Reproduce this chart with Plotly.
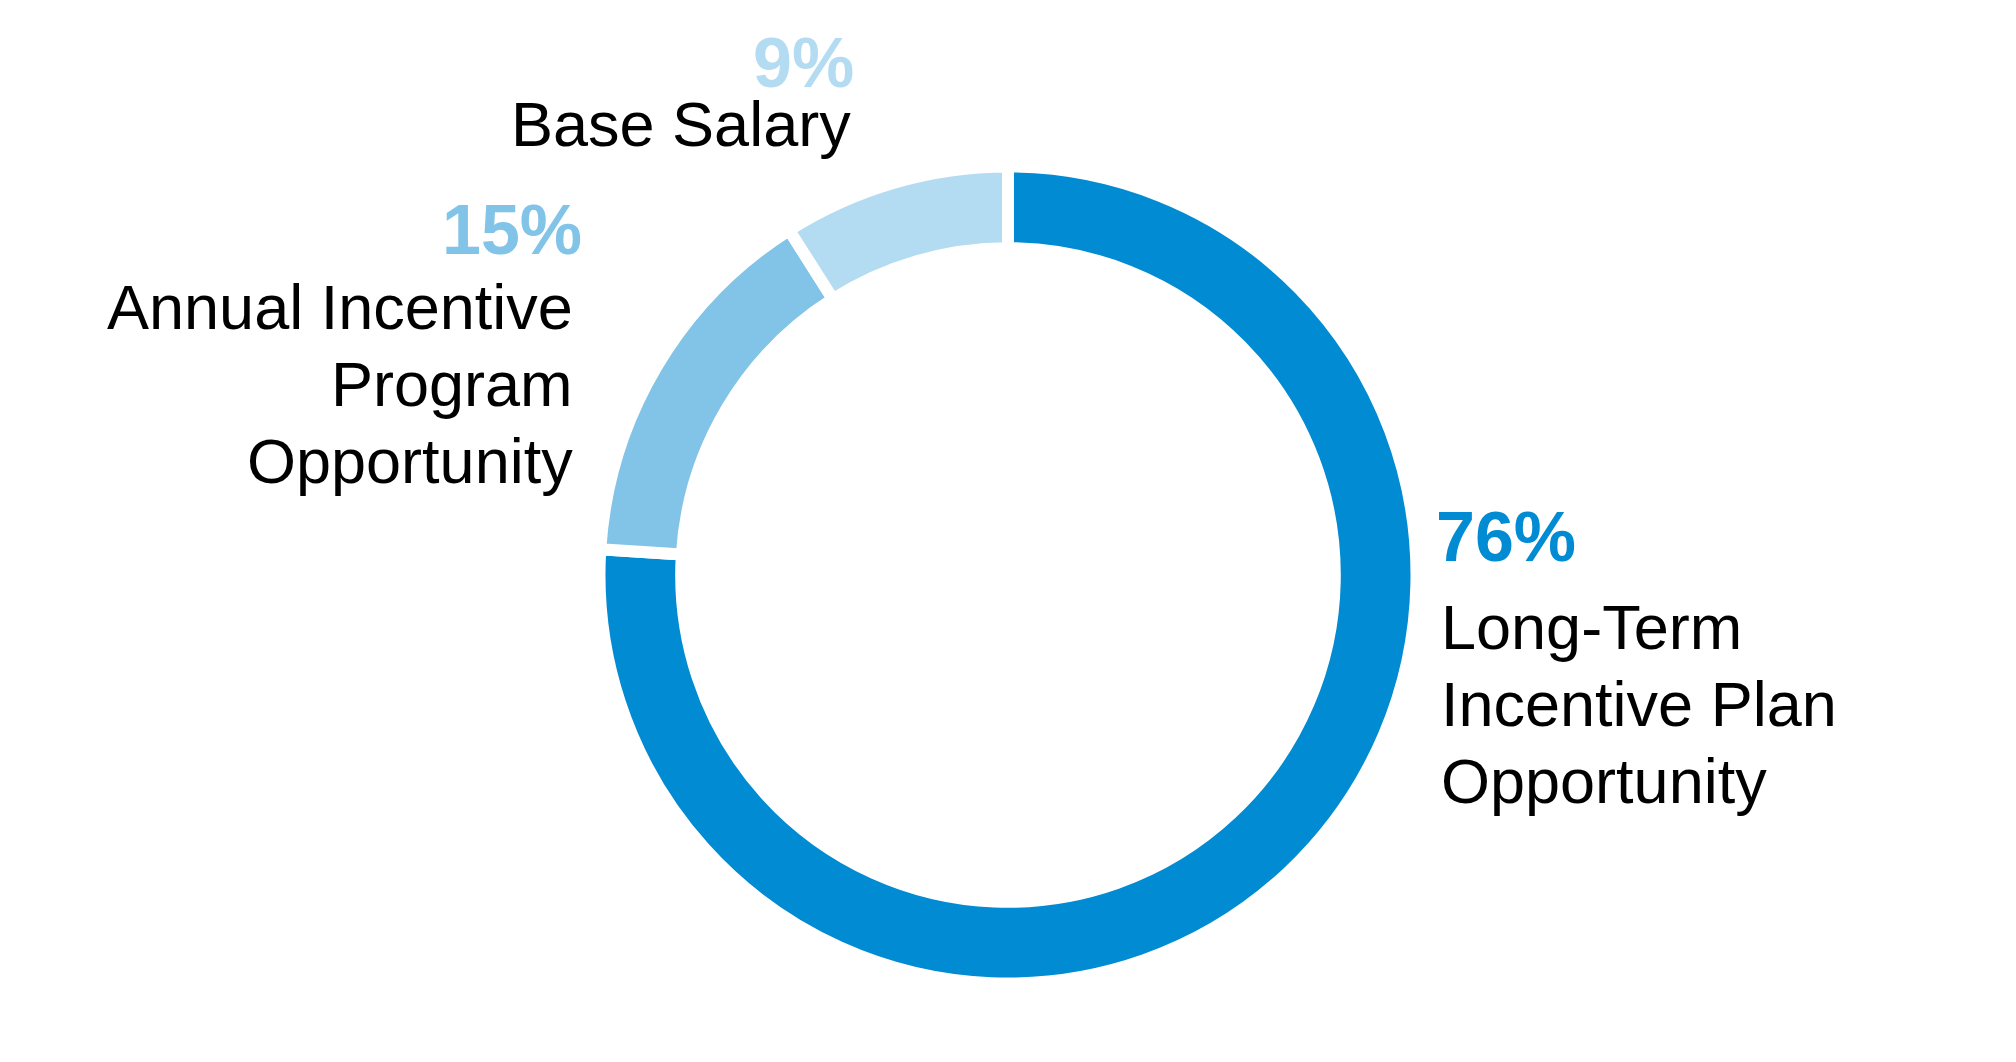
import plotly.graph_objects as go

# ---- data ----
categories = ["Long-Term Incentive Plan Opportunity",
              "Annual Incentive Program Opportunity",
              "Base Salary"]
values = [76, 15, 9]
pct_labels = ["76%", "15%", "9%"]
label_lines = [["Long-Term", "Incentive Plan", "Opportunity"],
               ["Annual Incentive", "Program", "Opportunity"],
               ["Base Salary"]]
colors = ["#008BD2", "#82C4E8", "#B3DCF2"]

# page body has an 8px margin; keep the figure inside the window
OFF = 8
W, H = 2016 - 2 * OFF, 1062 - 2 * OFF

def px(x):
    return (x - OFF) / W

def py(y):
    return 1 - (y - OFF) / H

fig = go.Figure()

# ring geometry (window pixels)
cx, cy, R = 1008, 575, 408.5
fig.add_trace(go.Pie(
    labels=categories,
    values=values,
    sort=False,
    direction="clockwise",
    rotation=0,
    hole=0.80,
    marker=dict(colors=colors, line=dict(color="white", width=12)),
    textinfo="none",
    hoverinfo="label+percent",
    showlegend=False,
    domain=dict(x=[px(cx - R), px(cx + R)], y=[py(cy + R), py(cy - R)]),
))

FONT = "Liberation Sans, Arial, Helvetica, sans-serif"
PCT_SIZE = 70
LBL_SIZE = 63

# label block layout:
# (anchor side, percent x, percent baseline, label x, first label baseline, line spacing)
layout_spec = [
    ("left", 1434, 561, 1439, 649, 77),
    ("right", 584, 254, 575, 329, 77),
    ("right", 856, 88, 853, 146, 77),
]

annotations = []
for i, (side, xp, pb, xl, lb, sp) in enumerate(layout_spec):
    annotations.append(dict(
        text="<b>%s</b>" % pct_labels[i],
        x=px(xp), y=py(pb - 0.35 * PCT_SIZE),
        xref="paper", yref="paper",
        xanchor=side, yanchor="middle",
        showarrow=False,
        font=dict(family=FONT, size=PCT_SIZE, color=colors[i]),
    ))
    for j, line in enumerate(label_lines[i]):
        annotations.append(dict(
            text=line,
            x=px(xl), y=py(lb + j * sp - 0.35 * LBL_SIZE),
            xref="paper", yref="paper",
            xanchor=side, yanchor="middle",
            showarrow=False,
            font=dict(family=FONT, size=LBL_SIZE, color="#000000"),
        ))

fig.update_layout(
    width=W, height=H,
    margin=dict(l=0, r=0, t=0, b=0),
    paper_bgcolor="white",
    plot_bgcolor="white",
    annotations=annotations,
)

fig.write_html("out.html")
